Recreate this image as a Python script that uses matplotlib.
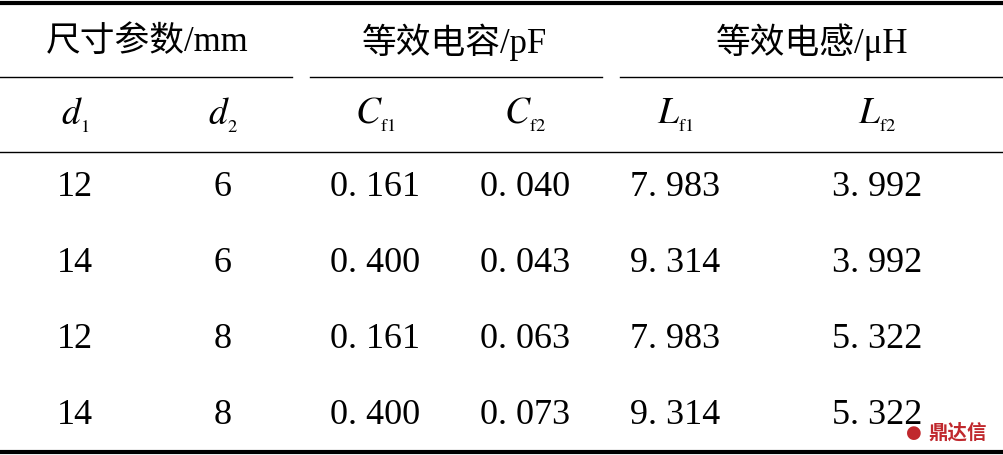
import matplotlib.pyplot as plt

plt.rcParams['mathtext.fontset'] = 'stix'

group_headers = ["尺寸参数/mm", "等效电容/pF", "等效电感/μH"]
sub_headers = [r"$d_{_1}$", r"$d_{_2}$", r"$C_{_{\mathrm{f1}}}$", r"$C_{_{\mathrm{f2}}}$",
               r"$L_{_{\mathrm{f1}}}$", r"$L_{_{\mathrm{f2}}}$"]
d1 = ["12", "14", "12", "14"]
d2 = ["6", "6", "8", "8"]
cf1 = ["0. 161", "0. 400", "0. 161", "0. 400"]
cf2 = ["0. 040", "0. 043", "0. 063", "0. 073"]
lf1 = ["7. 983", "9. 314", "7. 983", "9. 314"]
lf2 = ["3. 992", "3. 992", "5. 322", "5. 322"]

col_x = [75, 223, 375, 525, 675, 877]
group_x = [147, 455, 812]
group_spans = [(0, 292), (310, 602), (620, 1004)]
row_y = [188, 264, 340, 415]

fig = plt.figure(figsize=(10.04, 4.55), dpi=100)
ax = fig.add_axes([0, 0, 1, 1])
ax.set_xlim(0, 1004)
ax.set_ylim(455, 0)
ax.axis('off')

cjk = ['Liberation Serif', 'Noto Sans CJK SC', 'DejaVu Sans']

# rules
ax.plot([0, 1004], [3, 3], color='black', lw=3)
ax.plot([0, 1004], [452, 452], color='black', lw=3)
ax.plot([0, 1004], [152, 152], color='black', lw=1)
for a, b in group_spans:
    ax.plot([a, b], [77, 77], color='black', lw=1)

for x, t in zip(group_x, group_headers):
    ax.text(x, 42, t, ha='center', va='center', fontsize=25, family=cjk)
for x, t in zip(col_x, sub_headers):
    ax.text(x, 115, t, ha='center', va='center', fontsize=27)

cols = [d1, d2, cf1, cf2, lf1, lf2]
for x, col in zip(col_x, cols):
    for y, v in zip(row_y, col):
        ax.text(x, y, v, ha='center', va='center', fontsize=26,
                family='Liberation Serif')

# watermark
ax.text(928, 433, "鼎达信", ha='left', va='center', fontsize=14, color='#c0282d',
        family='Noto Sans CJK SC', fontweight='bold')
ax.text(914, 433, "●", ha='center', va='center', fontsize=13, color='#c0282d')

fig.savefig('out.png', dpi=100)
